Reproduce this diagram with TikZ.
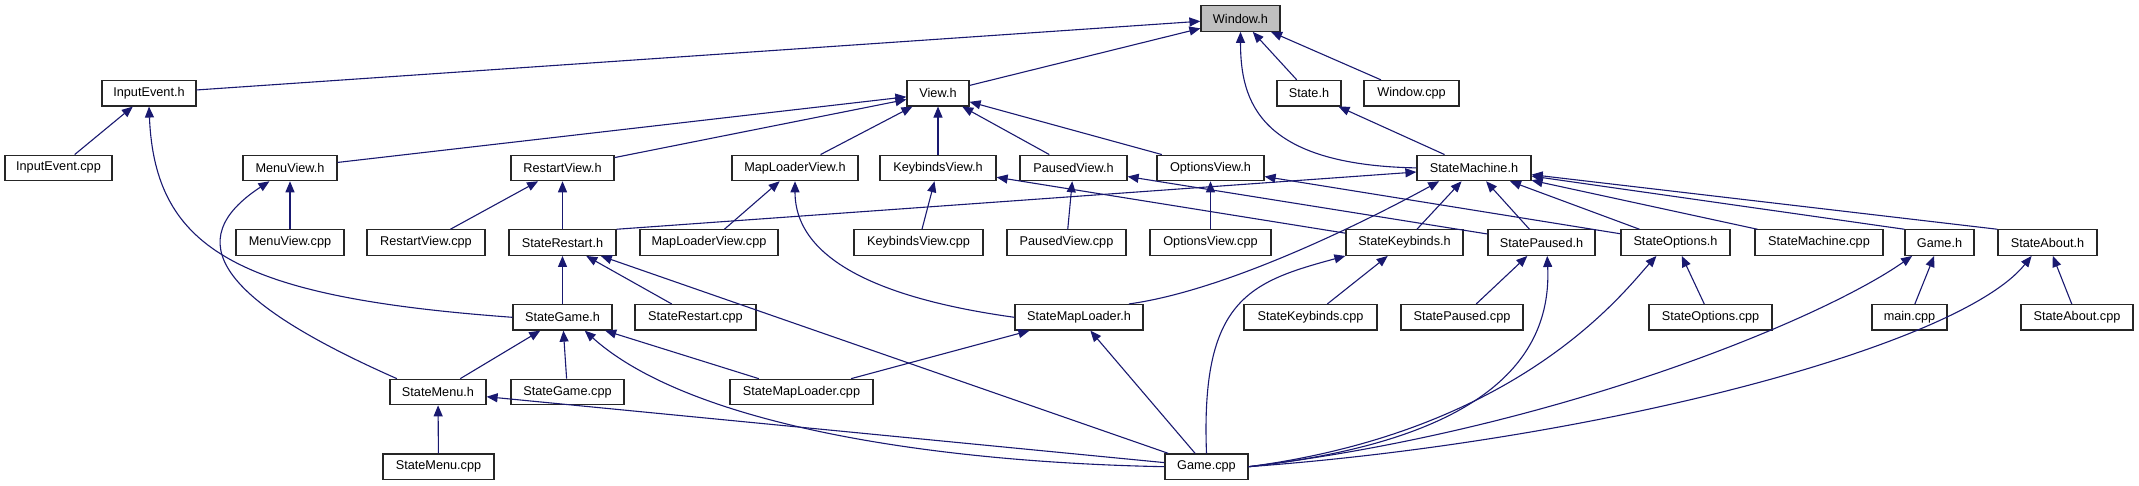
\documentclass[tikz,border=0pt]{standalone}
\usepackage{fontspec}
\setmainfont{Liberation Sans}
\usepackage{xcolor}
\usetikzlibrary{arrows.meta, positioning, calc}
\definecolor{depblue}{HTML}{191970}
\definecolor{hdrgray}{HTML}{BFBFBF}

\begin{document}
\begin{tikzpicture}[x=1pt, y=-1pt,
  font=\fontsize{12.7}{15}\selectfont,
  box/.style={draw=black!85, line width=1.2pt, fill=white, inner sep=2pt,
              minimum height=25.5pt},
  dep/.style={draw=depblue, line width=1.1pt,
              -{Triangle[length=11pt,width=9pt]}}]
\useasboundingbox (0,0) rectangle (2139,485);

\node[box, fill=hdrgray, minimum width=79pt] (winh) at (1240.5,18.5) {Window.h};
\foreach \n/\x/\r/\w/\t in {
  inputh/149/1/94/InputEvent.h,
  viewh/938/1/62/View.h,
  stateh/1309/1/64/State.h,
  wincpp/1411.5/1/95/Window.cpp,
  inputcpp/58.5/2/107/InputEvent.cpp,
  menuviewh/290/2/94/MenuView.h,
  restartviewh/562.5/2/103/RestartView.h,
  mlvh/795/2/126/MapLoaderView.h,
  kbvh/938/2/116/KeybindsView.h,
  pvh/1073.5/2/107/PausedView.h,
  ovh/1210.5/2/107/OptionsView.h,
  smh/1474/2/114/StateMachine.h,
  menuviewcpp/290/3/108/MenuView.cpp,
  restartviewcpp/426/3/118/RestartView.cpp,
  srestarth/562.5/3/107/StateRestart.h,
  mlvcpp/709/3/138/MapLoaderView.cpp,
  kbvcpp/918.5/3/129/KeybindsView.cpp,
  pvcpp/1066.5/3/119/PausedView.cpp,
  ovcpp/1210.5/3/121/OptionsView.cpp,
  skbh/1404.5/3/117/StateKeybinds.h,
  sph/1541.5/3/107/StatePaused.h,
  soh/1675.5/3/109/StateOptions.h,
  smcpp/1819/3/128/StateMachine.cpp,
  gameh/1939.5/3/69/Game.h,
  sah/2047.5/3/99/StateAbout.h,
  sgameh/562.5/4/99/StateGame.h,
  srestartcpp/695.5/4/121/StateRestart.cpp,
  smlh/1079/4/128/StateMapLoader.h,
  skbcpp/1310.5/4/133/StateKeybinds.cpp,
  spcpp/1462/4/122/StatePaused.cpp,
  socpp/1710.5/4/123/StateOptions.cpp,
  maincpp/1909.5/4/75/main.cpp,
  sacpp/2077/4/112/StateAbout.cpp,
  smenuh/438/5/96/StateMenu.h,
  sgamecpp/567.5/5/113/StateGame.cpp,
  smlcpp/801.5/5/143/StateMapLoader.cpp,
  smenucpp/438.5/6/111/StateMenu.cpp,
  gamecpp/1206.5/6/83/Game.cpp%
}{
  \pgfmathsetmacro{\y}{18.5+74.7*\r}
  \node[box, minimum width=\w pt] (\n) at (\x,\y) {\t};
}

\foreach \a/\b in {
  inputh/winh, viewh/winh, stateh/winh, wincpp/winh,
  inputcpp/inputh,
  menuviewh/viewh, restartviewh/viewh, mlvh/viewh, kbvh/viewh, pvh/viewh, ovh/viewh,
  smh/stateh,
  menuviewcpp/menuviewh,
  restartviewcpp/restartviewh, srestarth/restartviewh,
  mlvcpp/mlvh,
  kbvcpp/kbvh, skbh/kbvh,
  pvcpp/pvh, sph/pvh,
  ovcpp/ovh, soh/ovh,
  skbh/smh, sph/smh, soh/smh, smcpp/smh,
  sgameh/srestarth, srestartcpp/srestarth, gamecpp/srestarth,
  smenuh/sgameh, sgamecpp/sgameh, smlcpp/sgameh,
  gamecpp/smenuh, smenucpp/smenuh,
  smlcpp/smlh, gamecpp/smlh,
  skbcpp/skbh, spcpp/sph, socpp/soh,
  maincpp/gameh, sacpp/sah%
}{
  \draw[dep] (\a) -- (\b);
}
\draw[dep] (srestarth.north east) -- (smh);
\draw[dep] (gameh.north west) -- (smh);
\draw[dep] (sah.north west) -- (smh);

\draw[dep] (smh.west) .. controls +(-157,-3) and +(0,70) .. (winh.south);
\draw[dep] (sgameh.west) .. controls +(-273,-20) and +(6,144) .. (inputh.south);
\draw[dep] (smenuh.162) .. controls +(-179,-79) and +(-90,59) .. (menuviewh.213);
\draw[dep] (smlh.west) .. controls +(-130,-18) and +(0,80) .. (mlvh.south);
\draw[dep] (smlh.15) .. controls +(103,-14) and +(-60,33) .. (smh.201);
\draw[dep] (gamecpp.west) .. controls +(-250,-5) and +(100,90) .. (sgameh.-31);
\draw[dep] (gamecpp.north) .. controls +(-6,-154) and +(-96,26) .. (skbh.south west);
\draw[dep] (gamecpp.east) .. controls +(232,-26) and +(5,105) .. (sph.-67);
\draw[dep] (gamecpp.east) .. controls +(272,-36) and +(-32,35) .. (soh.215);
\draw[dep] (gamecpp.east) .. controls +(302,-36) and +(-93,65) .. (gameh.206);
\draw[dep] (gamecpp.east) .. controls +(352,-26) and +(-72,90) .. (sah.220);
\end{tikzpicture}
\end{document}
